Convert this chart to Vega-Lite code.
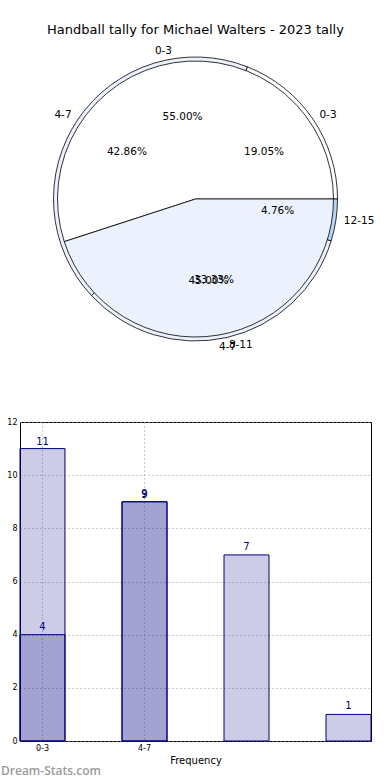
{
  "$schema": "https://vega.github.io/schema/vega-lite/v6.json",
  "padding": {"left": 0, "right": 0, "top": 23, "bottom": 0},
  "config": {"font": "DejaVu Sans", "view": {"stroke": null}},
  "datasets": {
    "tally": [
      {"s": "A", "cat": "0-3", "i": 0, "v": 11},
      {"s": "A", "cat": "4-7", "i": 1, "v": 9},
      {"s": "B", "cat": "0-3", "i": 0, "v": 4},
      {"s": "B", "cat": "4-7", "i": 1, "v": 9},
      {"s": "B", "cat": "8-11", "i": 2, "v": 7},
      {"s": "B", "cat": "12-15", "i": 3, "v": 1}
    ]
  },
  "spacing": 64,
  "vconcat": [
    {
      "width": 351,
      "height": 306,
      "title": {"text": "Handball tally for Michael Walters - 2023 tally", "fontSize": 13, "fontWeight": "normal", "color": "black", "offset": 9, "font": "DejaVu Sans"},
      "data": {"name": "tally"},
      "layer": [
        {
          "transform": [{"filter": "datum.s == 'B'"}],
          "mark": {"type": "arc", "radius": 142, "stroke": "black", "strokeWidth": 0.8},
          "encoding": {
            "theta": {"field": "v", "type": "quantitative", "stack": true, "scale": {"range": [1.5708, -4.7124]}},
            "order": {"field": "i", "type": "quantitative"},
            "fill": {"field": "cat", "type": "nominal", "scale": {"domain": ["0-3", "4-7", "8-11", "12-15"], "range": ["white", "#ebf1fd", "#ebf1fd", "#b9d3f6"]}, "legend": null}
          }
        },
        {
          "transform": [{"filter": "datum.s == 'A'"}],
          "mark": {"type": "arc", "radius": 138, "stroke": "black", "strokeWidth": 0.8},
          "encoding": {
            "theta": {"field": "v", "type": "quantitative", "stack": true, "scale": {"range": [1.5708, -4.7124]}},
            "order": {"field": "i", "type": "quantitative"},
            "fill": {"field": "cat", "type": "nominal", "scale": {"domain": ["0-3", "4-7"], "range": ["white", "#ebf1fd"]}, "legend": null}
          }
        },
        {
          "transform": [
            {"filter": "datum.s == 'B'"},
            {"joinaggregate": [{"op": "sum", "field": "v", "as": "tot"}]},
            {"calculate": "format(datum.v / datum.tot, '.2%')", "as": "pct"}
          ],
          "mark": {"type": "text", "radius": 83, "fontSize": 10.5, "color": "black"},
          "encoding": {
            "theta": {"field": "v", "type": "quantitative", "stack": true, "scale": {"range": [1.5708, -4.7124]}},
            "order": {"field": "i", "type": "quantitative"},
            "text": {"field": "pct"}
          }
        },
        {
          "transform": [
            {"filter": "datum.s == 'A'"},
            {"joinaggregate": [{"op": "sum", "field": "v", "as": "tot"}]},
            {"calculate": "format(datum.v / datum.tot, '.2%')", "as": "pct"}
          ],
          "mark": {"type": "text", "radius": 83, "fontSize": 10.5, "color": "black"},
          "encoding": {
            "theta": {"field": "v", "type": "quantitative", "stack": true, "scale": {"range": [1.5708, -4.7124]}},
            "order": {"field": "i", "type": "quantitative"},
            "text": {"field": "pct"}
          }
        },
        {
          "transform": [
            {"filter": "datum.s == 'B'"},
            {"joinaggregate": [{"op": "sum", "field": "v", "as": "tot"}]}
          ],
          "mark": {"type": "text", "radius": 150, "fontSize": 10.5, "color": "black", "align": {"expr": "cos(PI * (datum.v_start + datum.v_end) / datum.tot) >= 0 ? 'left' : 'right'"}},
          "encoding": {
            "theta": {"field": "v", "type": "quantitative", "stack": true, "scale": {"range": [1.5708, -4.7124]}},
            "order": {"field": "i", "type": "quantitative"},
            "text": {"field": "cat"}
          }
        },
        {
          "transform": [
            {"filter": "datum.s == 'A'"},
            {"joinaggregate": [{"op": "sum", "field": "v", "as": "tot"}]}
          ],
          "mark": {"type": "text", "radius": 150, "fontSize": 10.5, "color": "black", "align": {"expr": "cos(PI * (datum.v_start + datum.v_end) / datum.tot) >= 0 ? 'left' : 'right'"}},
          "encoding": {
            "theta": {"field": "v", "type": "quantitative", "stack": true, "scale": {"range": [1.5708, -4.7124]}},
            "order": {"field": "i", "type": "quantitative"},
            "text": {"field": "cat"}
          }
        }
      ],
      "resolve": {"scale": {"theta": "independent", "fill": "independent"}}
    },
    {
      "width": 351,
      "height": 319,
      "data": {"name": "tally"},
      "view": {"stroke": "black", "strokeWidth": 1},
      "title": {"text": "Dream-Stats.com", "orient": "bottom", "anchor": "start", "frame": "bounds", "fontSize": 12, "font": "Open Sans", "fontWeight": 600, "color": "#9a9a9a", "offset": 1},
      "encoding": {
        "x": {
          "field": "cat", "type": "nominal",
          "scale": {"domain": ["0-3", "4-7", "8-11", "12-15"], "paddingInner": 0.559, "paddingOuter": 0},
          "axis": {"values": ["0-3", "4-7"], "grid": true, "gridDash": [1, 3], "gridColor": "#999999", "gridOpacity": 1, "ticks": false, "domain": false, "labelFontSize": 8, "labelAngle": 0, "labelPadding": 3, "labelColor": "black", "title": "Frequency", "titleFontSize": 10, "titleFontWeight": "normal", "titleColor": "black", "titlePadding": 3, "bandPosition": 0.5}
        },
        "y": {
          "field": "v", "type": "quantitative",
          "scale": {"domain": [0, 12]},
          "axis": {"values": [0, 2, 4, 6, 8, 10, 12], "grid": true, "gridDash": [1, 3], "gridColor": "#999999", "gridOpacity": 1, "ticks": false, "domain": false, "labelFontSize": 8, "labelPadding": 3, "labelColor": "black", "title": null, "minExtent": 19}
        }
      },
      "layer": [
        {"transform": [{"filter": "datum.s == 'A'"}], "mark": {"type": "bar", "fill": "#000080", "fillOpacity": 0.2, "stroke": "#000080", "strokeWidth": 1}},
        {"transform": [{"filter": "datum.s == 'B'"}], "mark": {"type": "bar", "fill": "#000080", "fillOpacity": 0.2, "stroke": "#000080", "strokeWidth": 1}},
        {"transform": [{"filter": "datum.s == 'A'"}], "mark": {"type": "text", "baseline": "bottom", "dy": -2, "color": "#000080", "fontSize": 10}, "encoding": {"text": {"field": "v"}}},
        {"transform": [{"filter": "datum.s == 'B'"}], "mark": {"type": "text", "baseline": "bottom", "dy": -3, "color": "#000080", "fontSize": 10}, "encoding": {"text": {"field": "v"}}}
      ]
    }
  ]
}
